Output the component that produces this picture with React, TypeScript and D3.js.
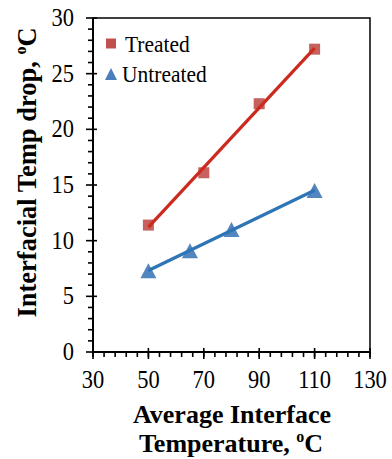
import React, { useEffect, useRef } from 'react';
import * as d3 from 'd3';

const treatedX = [50, 70, 90, 110];
const treatedY = [11.4, 16.1, 22.3, 27.2];
const untreatedX = [50, 65, 80, 110];
const untreatedY = [7.3, 9.1, 11.0, 14.5];
const xTicks = [30, 50, 70, 90, 110, 130];
const yTicks = [0, 5, 10, 15, 20, 25, 30];

function fit(xs: number[], ys: number[]) {
  const mx = d3.mean(xs)!;
  const my = d3.mean(ys)!;
  const b = d3.sum(xs, (x, i) => (x - mx) * (ys[i] - my)) / d3.sum(xs, x => (x - mx) ** 2);
  return (x: number) => my + b * (x - mx);
}

// triangle marker, w wide and h tall, centred on origin
function triangle(w: number, h: number) {
  const p = d3.path();
  p.moveTo(0, -h / 2);
  p.lineTo(w / 2, h / 2);
  p.lineTo(-w / 2, h / 2);
  p.closePath();
  return p.toString();
}

export default function App() {
  const svgRef = useRef<SVGSVGElement>(null);

  useEffect(() => {
    if (!svgRef.current) return;
    d3.select(svgRef.current).selectAll("*").remove();

    const svg = d3.select(svgRef.current);
    const font = "'Liberation Serif', 'Times New Roman', serif";
    const left = 93, right = 370, top = 18, bottom = 352;
    const stretch = 1.12; // text in the original is a bit taller than wide

    const x = d3.scaleLinear().domain([30, 130]).range([left, right]);
    const y = d3.scaleLinear().domain([0, 30]).range([bottom, top]);

    // frame
    svg.append("rect")
      .attr("x", left).attr("y", top)
      .attr("width", right - left).attr("height", bottom - top)
      .attr("fill", "none").attr("stroke", "#000").attr("stroke-width", 1.5);

    // y ticks
    const yg = svg.append("g");
    d3.range(0, 31, 1).forEach(v => {
      const major = v % 5 === 0;
      yg.append("line")
        .attr("x1", major ? left - 7 : left - 5).attr("x2", major ? left + 4 : left)
        .attr("y1", y(v)).attr("y2", y(v))
        .attr("stroke", "#000").attr("stroke-width", 1.6);
    });
    yg.selectAll("text").data(yTicks).enter().append("text")
      .attr("transform", d => `translate(${left - 19},${y(d) + 8}) scale(1,${stretch})`)
      .attr("text-anchor", "end")
      .attr("font-family", font).attr("font-size", 22.5)
      .text(d => d);
    yg.append("line").attr("x1", left).attr("x2", left).attr("y1", top).attr("y2", bottom)
      .attr("stroke", "#000").attr("stroke-width", 2);

    // x ticks
    const xg = svg.append("g");
    d3.range(30, 131, 4).forEach(v => {
      xg.append("line")
        .attr("x1", x(v)).attr("x2", x(v))
        .attr("y1", bottom).attr("y2", bottom + 5)
        .attr("stroke", "#000").attr("stroke-width", 1.6);
    });
    xTicks.forEach(v => {
      xg.append("line")
        .attr("x1", x(v)).attr("x2", x(v))
        .attr("y1", bottom - 4).attr("y2", bottom + 7)
        .attr("stroke", "#000").attr("stroke-width", 1.6);
    });
    xg.selectAll("text").data(xTicks).enter().append("text")
      .attr("transform", d => `translate(${x(d)},${bottom + 36}) scale(1,${stretch})`)
      .attr("text-anchor", "middle")
      .attr("font-family", font).attr("font-size", 22.5)
      .text(d => d);
    xg.append("line").attr("x1", left).attr("x2", right).attr("y1", bottom).attr("y2", bottom)
      .attr("stroke", "#000").attr("stroke-width", 2);

    // markers
    svg.selectAll(".sq").data(treatedX).enter().append("rect")
      .attr("x", d => x(d) - 5.5).attr("y", (d, i) => y(treatedY[i]) - 5.5)
      .attr("width", 11).attr("height", 11)
      .attr("fill", "#c0504d").attr("opacity", 0.9);

    svg.selectAll(".tri").data(untreatedX).enter().append("path")
      .attr("d", triangle(16, 15))
      .attr("transform", (d, i) => `translate(${x(d)},${y(untreatedY[i])})`)
      .attr("fill", "#4a7ebb").attr("opacity", 0.95);

    // linear trendlines
    const ft = fit(treatedX, treatedY);
    const fu = fit(untreatedX, untreatedY);
    const line = d3.line<number[]>().x(d => x(d[0])).y(d => y(d[1]));
    svg.append("path")
      .attr("d", line([[50, ft(50)], [110, ft(110)]]))
      .attr("stroke", "#cc2a1e").attr("stroke-width", 3.2).attr("fill", "none");
    svg.append("path")
      .attr("d", line([[50, fu(50)], [110, fu(110)]]))
      .attr("stroke", "#2e75b6").attr("stroke-width", 3.2).attr("fill", "none");

    // legend
    svg.append("rect").attr("x", 106).attr("y", 38.5).attr("width", 10).attr("height", 10)
      .attr("fill", "#c0504d");
    svg.append("text").attr("transform", `translate(125,52) scale(1,${stretch})`)
      .attr("font-family", font).attr("font-size", 21.5).text("Treated");
    svg.append("path").attr("d", triangle(12, 12))
      .attr("transform", "translate(111,74)").attr("fill", "#4a7ebb");
    svg.append("text").attr("transform", `translate(122,82) scale(1,${stretch})`)
      .attr("font-family", font).attr("font-size", 21.5).text("Untreated");

    // axis titles
    const yt = svg.append("text")
      .attr("transform", `translate(36,${(18 + 327) / 2}) rotate(-90)`)
      .attr("text-anchor", "middle")
      .attr("font-family", font).attr("font-size", 26.5).attr("font-weight", "bold");
    yt.append("tspan").text("Interfacial Temp drop, ");
    yt.append("tspan").attr("font-size", 16).attr("dy", -10).text("o");
    yt.append("tspan").attr("dy", 10).text("C");

    svg.append("text")
      .attr("x", 232).attr("y", 423)
      .attr("text-anchor", "middle")
      .attr("font-family", font).attr("font-size", 26).attr("font-weight", "bold")
      .text("Average Interface");
    const xt = svg.append("text")
      .attr("x", 231).attr("y", 452)
      .attr("text-anchor", "middle")
      .attr("font-family", font).attr("font-size", 26).attr("font-weight", "bold");
    xt.append("tspan").text("Temperature, ");
    xt.append("tspan").attr("font-size", 16).attr("dy", -10).text("o");
    xt.append("tspan").attr("dy", 10).text("C");
  }, []);

  return (
    <svg ref={svgRef} width={392} height={459}
      style={{ position: 'absolute', left: 0, top: 0, background: '#fff' }} />
  );
}
